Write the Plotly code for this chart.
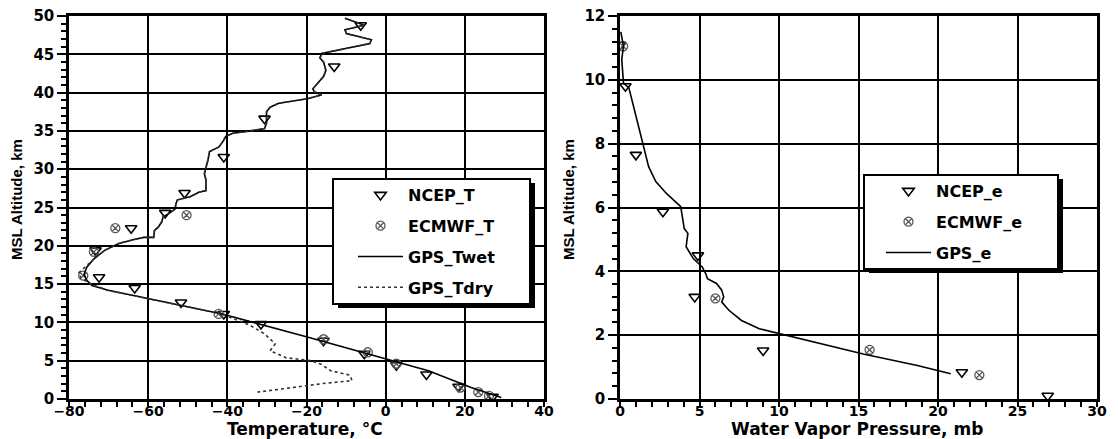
import plotly.graph_objects as go

# ---------------- data: left panel (temperature) ----------------
twet_alt = [49.7, 48.8, 48.2, 47.7, 46.9, 46.4, 45.1, 44.5, 44.0, 42.9, 42.1, 41.2, 40.5, 40.1,
            39.7, 39.2, 38.6, 38.1, 37.5, 36.0, 35.3, 35.0, 34.7, 34.3, 33.8, 32.9, 32.3, 31.2,
            30.3, 29.4, 28.6, 27.2, 27.0, 26.4, 26.0, 25.5, 24.8, 24.2, 23.8, 23.1, 22.4, 22.0,
            21.1, 21.1, 20.8, 20.3, 19.4, 18.3, 17.2, 16.3, 15.5, 14.8, 14.2, 13.6, 13.3,
            11.1, 8.1, 5.2, 3.7, 1.5, 0.2]
twet_t = [-10.3, -5.4, -10.3, -9.9, -3.6, -4.0, -16.2, -16.6, -15.7, -15.1, -15.7, -17.1, -18.4, -18.0,
          -16.2, -19.8, -27.0, -29.2, -30.1, -30.1, -30.6, -34.2, -38.6, -40.4, -40.9, -42.1, -44.5, -44.9,
          -45.4, -45.8, -45.4, -45.4, -47.2, -49.4, -52.6, -53.0, -53.2, -54.8, -56.2, -56.6, -57.5, -58.4,
          -58.6, -61.1, -63.8, -67.4, -71.0, -73.7, -75.5, -76.2, -75.5, -74.2, -70.1, -64.7, -61.1,
          -41.3, -19.8, 0.0, 10.8, 21.6, 29.2]

tdry_alt = [49.7, 48.8, 48.2, 47.7, 46.9, 46.4, 45.1, 44.5, 44.0, 42.9, 42.1, 41.2, 40.5, 40.1,
            39.7, 39.2, 38.6, 38.1, 37.5, 36.0, 35.3, 35.0, 34.7, 34.3, 33.8, 32.9, 32.3, 31.2,
            30.3, 29.4, 28.6, 27.2, 27.0, 26.4, 26.0, 25.5, 24.8, 24.2, 23.8, 23.1, 22.4, 22.0,
            21.1, 21.1, 20.8, 20.3, 19.4, 18.3, 17.2, 16.5, 15.8, 15.0, 14.2, 13.6, 13.3,
            11.1, 10.7, 9.6, 8.5, 7.2, 6.3, 5.4, 5.0, 4.5, 3.7, 3.1, 2.4, 2.0, 1.5, 0.9]
tdry_t = [-10.3, -5.4, -10.3, -9.9, -3.6, -4.0, -16.2, -16.6, -15.7, -15.1, -15.7, -17.1, -18.4, -18.0,
          -16.2, -19.8, -27.0, -29.2, -30.1, -30.1, -30.6, -34.2, -38.6, -40.4, -40.9, -42.1, -44.5, -44.9,
          -45.4, -45.8, -45.4, -45.4, -47.2, -49.4, -52.6, -53.0, -53.2, -54.8, -56.2, -56.6, -57.5, -58.4,
          -58.6, -61.1, -63.8, -67.4, -71.0, -73.7, -76.0, -77.5, -77.0, -74.5, -70.3, -64.7, -61.1,
          -41.3, -39.5, -34.2, -30.6, -27.9, -29.2, -25.2, -18.9, -16.2, -13.9, -9.0, -8.5, -16.2, -23.4, -32.4]

ncep_t_alt = [48.8, 43.4, 36.6, 31.6, 26.9, 24.3, 22.3, 19.4, 15.9, 14.5, 12.6, 11.1, 9.8, 7.6, 5.9, 4.4, 3.2, 1.6, 0.3]
ncep_t_val = [-6.3, -13.0, -30.6, -40.9, -50.8, -55.7, -64.3, -73.3, -72.4, -63.4, -51.7, -40.9, -31.5, -15.7, -5.4, 2.7, 10.3, 18.4, 27.0]

ecmwf_t_alt = [24.0, 22.3, 19.2, 16.1, 11.1, 7.8, 6.1, 4.6, 1.5, 0.9, 0.4]
ecmwf_t_val = [-50.3, -68.3, -73.7, -76.4, -42.2, -15.7, -4.5, 2.7, 18.9, 23.4, 26.1]

# ---------------- data: right panel (water vapour pressure) ----------------
gps_e_alt = [11.5, 11.06, 10.64, 10.1, 9.9, 9.75, 9.06, 8.12, 7.28, 6.81, 6.44, 6.03, 5.61, 5.34, 5.19,
             4.77, 4.40, 4.14, 3.93, 3.77, 3.62, 3.41, 3.20, 3.04, 2.78, 2.46, 2.20, 2.04, 1.83, 1.41,
             1.05, 0.79]
gps_e_val = [0.05, 0.22, 0.11, 0.18, 0.22, 0.56, 0.9, 1.35, 1.8, 2.25, 2.92, 3.82, 3.93, 4.04, 4.27,
             4.16, 4.61, 5.17, 5.39, 5.5, 6.07, 6.4, 6.52, 6.4, 6.85, 7.64, 8.76, 10.1, 11.9, 15.3,
             18.7, 20.8]

ncep_e_alt = [11.1, 9.8, 7.65, 5.87, 4.5, 3.2, 1.52, 0.84, 0.1]
ncep_e_val = [0.0, 0.34, 1.0, 2.7, 4.9, 4.7, 9.0, 21.5, 26.9]

ecmwf_e_alt = [11.05, 3.15, 1.54, 0.75]
ecmwf_e_val = [0.2, 6.0, 15.7, 22.6]

x1_title = "Temperature, °C"
x2_title = "Water Vapor Pressure, mb"
y_title = "MSL Altitude, km"

# ---------------- figure ----------------
# the page has an 8px body margin, so the figure is placed at (8, 8)
OFF = 8
W, H = 1110, 431
FONT = "DejaVu Sans"


def px(x):
    return (x - OFF) / W


def py(y):
    return 1 - (y - OFF) / H


fig = go.Figure()

tri = dict(symbol="triangle-down-open", size=10, color="black", line=dict(width=1.6, color="black"))
cx = dict(symbol="circle-x-open", size=9, color="#555555", line=dict(width=1.3, color="#555555"))

fig.add_trace(go.Scatter(x=ncep_t_val, y=ncep_t_alt, mode="markers", name="NCEP_T", marker=tri,
                         xaxis="x", yaxis="y", legend="legend", legendgroup="a"))
fig.add_trace(go.Scatter(x=ecmwf_t_val, y=ecmwf_t_alt, mode="markers", name="ECMWF_T", marker=cx,
                         xaxis="x", yaxis="y", legend="legend", legendgroup="b"))
fig.add_trace(go.Scatter(x=twet_t, y=twet_alt, mode="lines", name="GPS_Twet",
                         line=dict(color="black", width=1.6), xaxis="x", yaxis="y",
                         legend="legend", legendgroup="c"))
fig.add_trace(go.Scatter(x=tdry_t, y=tdry_alt, mode="lines", name="GPS_Tdry",
                         line=dict(color="#333333", width=1.6, dash="dot"), xaxis="x", yaxis="y",
                         legend="legend", legendgroup="d"))

fig.add_trace(go.Scatter(x=ncep_e_val, y=ncep_e_alt, mode="markers", name="NCEP_e", marker=tri,
                         xaxis="x2", yaxis="y2", legend="legend2", legendgroup="e"))
fig.add_trace(go.Scatter(x=ecmwf_e_val, y=ecmwf_e_alt, mode="markers", name="ECMWF_e", marker=cx,
                         xaxis="x2", yaxis="y2", legend="legend2", legendgroup="f"))
fig.add_trace(go.Scatter(x=gps_e_val, y=gps_e_alt, mode="lines", name="GPS_e",
                         line=dict(color="black", width=1.6), xaxis="x2", yaxis="y2",
                         legend="legend2", legendgroup="g"))

ydom = [py(399), py(16)]
xtickfont = dict(family=FONT, size=14, color="black", weight="bold")
ytickfont = dict(family=FONT, size=15, color="black", weight="bold")
xtitlefont = dict(family=FONT, size=17, color="black", weight="bold")
ytitlefont = dict(family="Liberation Sans", size=15, color="black", weight="bold")

common = dict(showline=True, linecolor="black", linewidth=2.5, mirror=True,
              showgrid=True, gridcolor="black", gridwidth=2, zeroline=False,
              ticks="outside", tickwidth=2, tickcolor="black",
              automargin=False, ticklabeloverflow="allow")

minor_common = dict(ticks="outside", ticklen=5, tickwidth=2, tickcolor="black", showgrid=False)

fig.update_layout(
    width=W, height=H,
    margin=dict(l=0, r=0, t=0, b=0),
    paper_bgcolor="white", plot_bgcolor="white",
    xaxis=dict(domain=[px(69), px(544)], range=[-80, 40], dtick=20, tick0=0,
               minor=dict(dtick=4, **minor_common), ticklabelstandoff=-8, ticklen=5,
               tickfont=xtickfont, anchor="y", **common),
    yaxis=dict(domain=ydom, range=[0, 50], dtick=5, tick0=0,
               minor=dict(dtick=1, **minor_common), ticklen=9,
               tickfont=ytickfont, anchor="x", **common),
    xaxis2=dict(domain=[px(620), px(1097)], range=[0, 30], dtick=5, tick0=0,
                minor=dict(dtick=1, **minor_common), ticklabelstandoff=-8, ticklen=5,
                tickfont=xtickfont, anchor="y2", **common),
    yaxis2=dict(domain=ydom, range=[0, 12], dtick=2, tick0=0,
                minor=dict(dtick=0.4, **minor_common), ticklen=9,
                tickfont=ytickfont, anchor="x2", **common),
    legend=dict(x=px(333), y=py(178), xanchor="left", yanchor="top",
                bgcolor="rgba(0,0,0,0)", borderwidth=0, tracegroupgap=7, indentation=20,
                font=dict(family=FONT, size=16, color="black", weight="bold"), itemwidth=45),
    legend2=dict(x=px(864), y=py(174), xanchor="left", yanchor="top",
                 bgcolor="rgba(0,0,0,0)", borderwidth=0, tracegroupgap=7, indentation=17,
                 font=dict(family=FONT, size=16, color="black", weight="bold"), itemwidth=45),
    showlegend=True,
)

# axis titles
fig.add_annotation(text=x1_title, x=px(305), y=py(429), xref="paper", yref="paper",
                   xanchor="center", yanchor="middle", showarrow=False, font=xtitlefont)
fig.add_annotation(text=x2_title, x=px(857), y=py(429), xref="paper", yref="paper",
                   xanchor="center", yanchor="middle", showarrow=False, font=xtitlefont)
fig.add_annotation(text=y_title, x=px(16), y=py(200), xref="paper", yref="paper", textangle=-90,
                   xanchor="center", yanchor="middle", showarrow=False, font=ytitlefont)
fig.add_annotation(text=y_title, x=px(568), y=py(200), xref="paper", yref="paper", textangle=-90,
                   xanchor="center", yanchor="middle", showarrow=False, font=ytitlefont)

# legend boxes with drop shadow (drawn above the traces, under the legend entries)
for (x0, y0, x1, y1) in [(333, 179, 530, 304), (864, 175, 1058, 269)]:
    fig.add_shape(type="rect", xref="paper", yref="paper",
                  x0=px(x0 + 5), x1=px(x1 + 5), y0=py(y1 + 4), y1=py(y0 + 4),
                  fillcolor="black", line=dict(width=0), layer="above")
    fig.add_shape(type="rect", xref="paper", yref="paper",
                  x0=px(x0), x1=px(x1), y0=py(y1), y1=py(y0),
                  fillcolor="white", line=dict(width=2, color="black"), layer="above")

fig.write_html("out.html")
